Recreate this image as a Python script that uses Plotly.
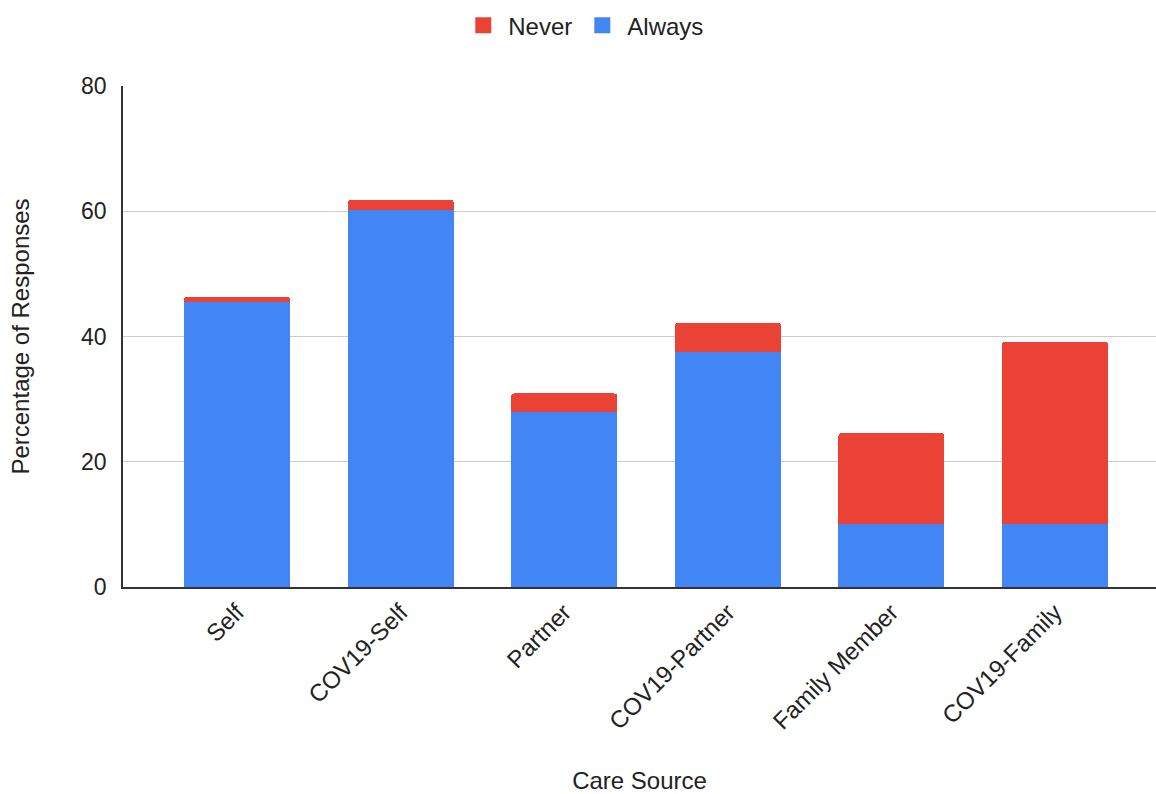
import plotly.graph_objects as go

categories = ["Self", "COV19-Self", "Partner", "COV19-Partner", "Family Member", "COV19-Family"]
always = [45.5, 60.2, 28.0, 37.6, 10.1, 10.1]
never = [0.8, 1.6, 2.9, 4.6, 14.5, 29.1]

FONT = "Liberation Sans, Arial, sans-serif"
BLUE = "#4285F4"
RED = "#EA4335"

fig = go.Figure()
fig.add_trace(go.Bar(x=categories, y=always, name="Always", showlegend=False,
                     marker=dict(color=BLUE, line=dict(width=0))))
fig.add_trace(go.Bar(x=categories, y=never, name="Never", showlegend=False,
                     marker=dict(color=RED, line=dict(width=0))))
# legend entries with larger square swatches
fig.add_trace(go.Scatter(x=[None], y=[None], mode="markers", name="Always",
                         marker=dict(symbol="square", size=22, color=BLUE)))
fig.add_trace(go.Scatter(x=[None], y=[None], mode="markers", name="Never",
                         marker=dict(symbol="square", size=22, color=RED)))

fig.update_layout(
    width=1156, height=794,
    barmode="stack",
    bargap=0.352,
    barcornerradius=3,
    plot_bgcolor="white",
    paper_bgcolor="white",
    font=dict(family=FONT, size=24, color="#222222"),
    margin=dict(l=123, r=0, t=86, b=207, autoexpand=False),
    legend=dict(
        orientation="h", traceorder="reversed",
        xref="container", yref="container",
        x=0.505, xanchor="center", y=0.996, yanchor="top",
        font=dict(size=24, color="#222222"),
        itemsizing="trace",
        itemwidth=40,
    ),
    xaxis=dict(
        range=[-0.697, 5.617],
        tickangle=-45,
        showline=True, linecolor="#333333", linewidth=1.5,
        showgrid=False,
        tickfont=dict(size=24),
        title=dict(text="Care Source", font=dict(size=24), standoff=44),
        automargin=False,
    ),
    yaxis=dict(
        range=[0, 80], dtick=20,
        showline=True, linecolor="#333333", linewidth=1.5,
        showgrid=True, gridcolor="#cccccc", gridwidth=1,
        zeroline=False,
        tickfont=dict(size=23),
        ticklabelstandoff=10,
        title=dict(text="Percentage of Responses", font=dict(size=24), standoff=45),
        automargin=False,
    ),
)

fig.write_html("out.html")
